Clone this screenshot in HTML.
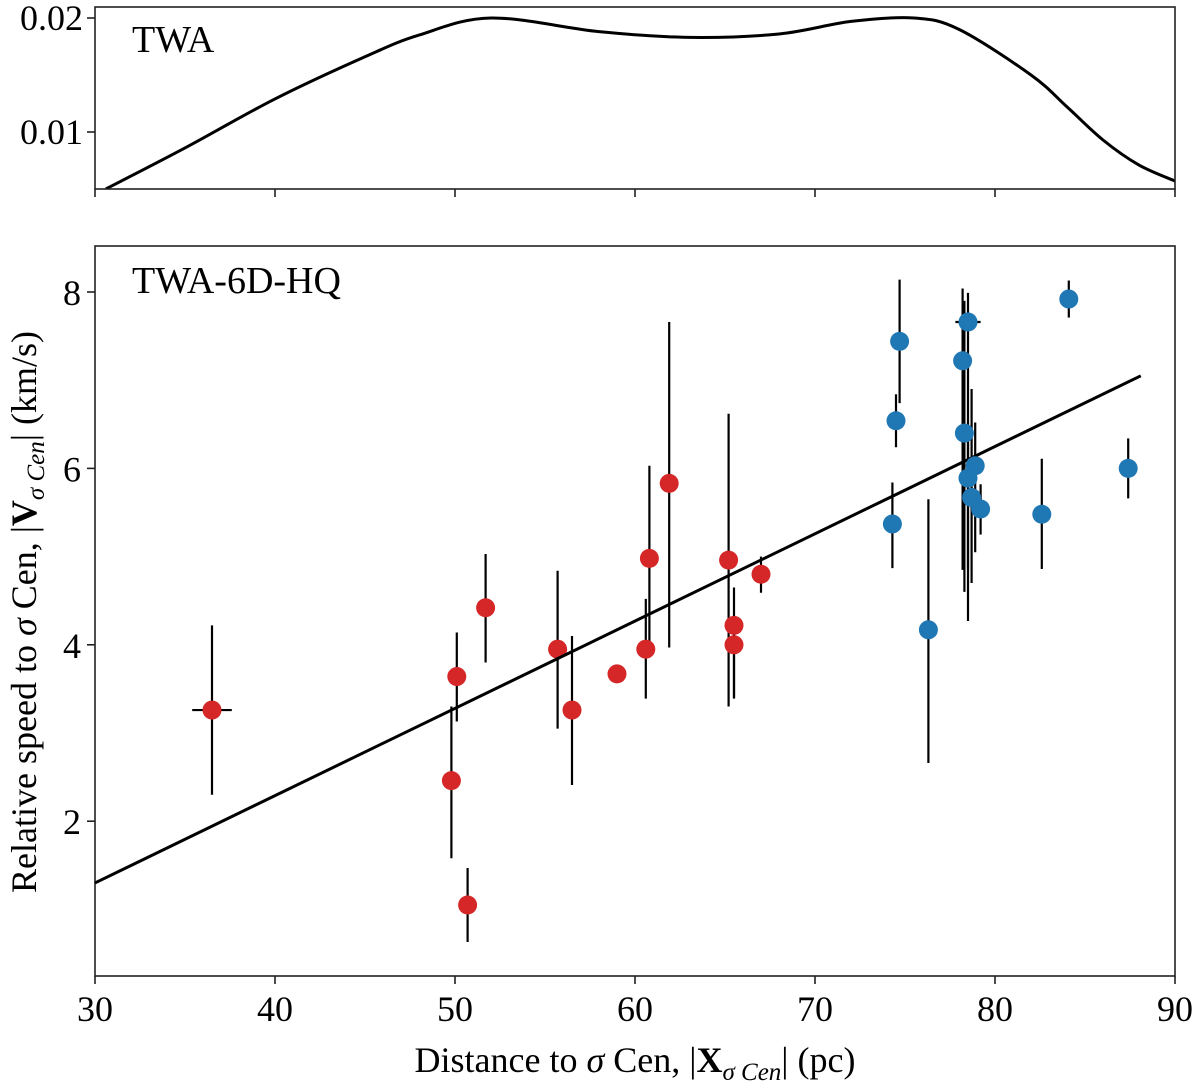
<!DOCTYPE html>
<html><head><meta charset="utf-8"><style>
html,body{margin:0;padding:0;background:#fff;}
svg{display:block;font-family:"Liberation Serif",serif;}
</style></head><body>
<svg id="chart" width="1200" height="1090" viewBox="0 0 1200 1090" xmlns="http://www.w3.org/2000/svg">
<g id="topPanel"></g>
<g id="botPanel"></g>
</svg>
<script>
const kdeX=[30.6,35,40,45,48,52,58,63,68,72,75.5,78,82,84,86,88,90];
const kdeY=[0.005,0.0086,0.0129,0.0166,0.0185,0.0200,0.0188,0.0183,0.0186,0.0197,0.0200,0.0190,0.0150,0.0122,0.0093,0.0071,0.0057];
const redX=[36.5,49.8,50.1,50.7,51.7,55.7,56.5,59.0,60.6,60.8,61.9,65.2,65.5,65.5,67.0];
const redY=[3.26,2.46,3.64,1.05,4.42,3.95,3.26,3.67,3.95,4.98,5.83,4.96,4.22,4.0,4.8];
const redErrLo=[2.3,1.58,3.13,0.63,3.80,3.05,2.41,3.67,3.39,3.93,3.97,3.30,3.39,3.4,4.59];
const redErrHi=[4.22,3.3,4.14,1.47,5.03,4.84,4.10,3.67,4.52,6.03,7.66,6.62,4.65,4.28,5.0];
const redXErr=[1.1,0,0,0,0,0,0,0,0,0,0,0,0,0,0];
const blueX=[74.5,74.3,74.7,76.3,78.2,78.5,78.3,78.9,78.5,78.7,79.2,82.6,84.1,87.4];
const blueY=[6.54,5.37,7.44,4.17,7.22,7.66,6.4,6.03,5.89,5.67,5.54,5.48,7.92,6.0];
const blueErrLo=[6.24,4.87,6.74,2.66,4.85,4.27,4.6,5.05,4.85,4.7,5.25,4.86,7.71,5.66];
const blueErrHi=[6.84,5.84,8.14,5.65,8.04,7.99,7.9,6.52,6.3,6.9,5.82,6.11,8.13,6.34];
const blueXErr=[0,0,0,0,0,0.7,0,0,0,0,0,0,0,0];
const fitX=[30,88.1];
const fitY=[1.30,7.05];
const xTicks=[30,40,50,60,70,80,90];
const topYTicks=[0.01,0.02];
const botYTicks=[2,4,6,8];

const NS="http://www.w3.org/2000/svg";
const X0=95,X1=1175;
const sx=v=>X0+(v-30)/60*(X1-X0);
const tyS=v=>18+(0.02-v)*11400;
const byS=v=>292+(8-v)*88.2;
function mk(p,tag,attrs,txt){const e=document.createElementNS(NS,tag);for(const k in attrs)e.setAttribute(k,attrs[k]);if(txt!==undefined)e.textContent=txt;p.appendChild(e);return e;}
const topG=document.getElementById('topPanel'),botG=document.getElementById('botPanel');

const pts=kdeX.map((x,i)=>[sx(x),tyS(kdeY[i])]);
let d='M'+pts[0][0]+','+pts[0][1];
for(let i=0;i<pts.length-1;i++){const p0=pts[Math.max(0,i-1)],p1=pts[i],p2=pts[i+1],p3=pts[Math.min(pts.length-1,i+2)];
d+=` C${p1[0]+(p2[0]-p0[0])/6},${p1[1]+(p2[1]-p0[1])/6} ${p2[0]-(p3[0]-p1[0])/6},${p2[1]-(p3[1]-p1[1])/6} ${p2[0]},${p2[1]}`;}
const clipT=mk(topG,'clipPath',{id:'ct'});mk(clipT,'rect',{x:X0,y:7,width:X1-X0,height:182});
let c=mk(topG,'path',{d:d,fill:'none',stroke:'#000','stroke-width':3,'clip-path':'url(#ct)'});


c=mk(topG,'rect',{x:X0,y:7,width:X1-X0,height:182,fill:'none',stroke:'#222','stroke-width':1.6});


xTicks.forEach(v=>{mk(topG,'line',{x1:sx(v),x2:sx(v),y1:189,y2:197,stroke:'#222','stroke-width':1.6});});
topYTicks.forEach(v=>{mk(topG,'line',{x1:X0-8,x2:X0,y1:tyS(v),y2:tyS(v),stroke:'#222','stroke-width':1.6});
 const t=mk(topG,'text',{x:X0-12,y:tyS(v)+12,'font-size':36,'text-anchor':'end'},v.toFixed(2));
 
 });
c=mk(topG,'text',{x:132,y:52,'font-size':38},'TWA');



c=mk(botG,'rect',{x:X0,y:246,width:X1-X0,height:730,fill:'none',stroke:'#222','stroke-width':1.6});


xTicks.forEach(v=>{mk(botG,'line',{x1:sx(v),x2:sx(v),y1:976,y2:984,stroke:'#222','stroke-width':1.6});
 const t=mk(botG,'text',{x:sx(v),y:1021,'font-size':36,'text-anchor':'middle'},String(v));
 
 });
botYTicks.forEach(v=>{mk(botG,'line',{x1:X0-8,x2:X0,y1:byS(v),y2:byS(v),stroke:'#222','stroke-width':1.6});
 const t=mk(botG,'text',{x:X0-14,y:byS(v)+13,'font-size':36,'text-anchor':'end'},String(v));
 
 });
c=mk(botG,'text',{x:132,y:293,'font-size':38},'TWA-6D-HQ');



function series(xs,ys,lo,hi,xe,color,name){
 const g=mk(botG,'g',{});
 
 
 xs.forEach((x,i)=>{
  mk(g,'line',{x1:sx(x),x2:sx(x),y1:byS(lo[i]),y2:byS(hi[i]),stroke:'#000','stroke-width':2.2});
  if(xe[i]>0)mk(g,'line',{x1:sx(x-xe[i]),x2:sx(x+xe[i]),y1:byS(ys[i]),y2:byS(ys[i]),stroke:'#000','stroke-width':2.2});
 });
 xs.forEach((x,i)=>{
  const p=mk(g,'circle',{cx:sx(x),cy:byS(ys[i]),r:9.5,fill:color});
  
  
 });
}
series(redX,redY,redErrLo,redErrHi,redXErr,'#d62728','red-series');
c=mk(botG,'line',{x1:sx(fitX[0]),y1:byS(fitY[0]),x2:sx(fitX[1]),y2:byS(fitY[1]),stroke:'#000','stroke-width':3});


series(blueX,blueY,blueErrLo,blueErrHi,blueXErr,'#1f77b4','blue-series');
c=mk(botG,'text',{x:635,y:1072,'font-size':36,'text-anchor':'middle'});
c.innerHTML='Distance to <tspan font-style="italic">σ</tspan> Cen, |<tspan font-weight="bold">X</tspan><tspan font-style="italic" font-size="25" dy="8">σ Cen</tspan><tspan dy="-8">| (pc)</tspan>';


c=mk(botG,'text',{x:0,y:0,'font-size':36,'text-anchor':'middle',transform:'translate(36,612) rotate(-90)'});
c.innerHTML='Relative speed to <tspan font-style="italic">σ</tspan> Cen, |<tspan font-weight="bold">V</tspan><tspan font-style="italic" font-size="25" dy="8">σ Cen</tspan><tspan dy="-8">| (km/s)</tspan>';


</script>
</body></html>
